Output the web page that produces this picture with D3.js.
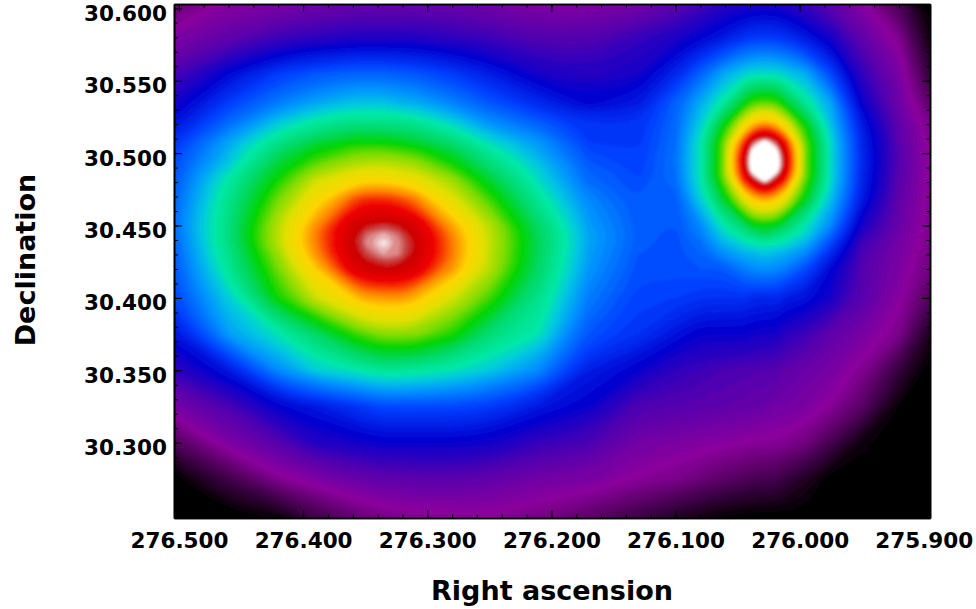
<!DOCTYPE html>
<html>
<head>
<meta charset="utf-8">
<script src="https://cdn.jsdelivr.net/npm/d3@7"></script>
<style>
html, body { margin: 0; padding: 0; background: #fff; }
svg text { font-family: "DejaVu Sans"; font-weight: bold; fill: #000; }
</style>
</head>
<body>
<svg width="976" height="609"></svg>
<script>
// Sampled map: right ascension and declination of the rows/columns (degrees)
var raValues = [276.504, 276.46, 276.42, 276.39, 276.36, 276.349, 276.335, 276.323, 276.31, 276.28, 276.25, 276.21, 276.17, 276.13,
    276.10, 276.08, 276.062, 276.045, 276.038, 276.028, 276.019, 276.012, 275.995, 275.975, 275.95, 275.92, 275.895];
var decValues = [30.603, 30.58, 30.555, 30.535, 30.52, 30.508, 30.502, 30.495, 30.488, 30.482, 30.468, 30.45, 30.444, 30.438,
    30.43, 30.42, 30.40, 30.375, 30.35, 30.325, 30.30, 30.275, 30.248];

// Levels, one row per declination
var levelRows = [
    [10,14,15,16,17,17,17,17,17,17,16,14.5,14.5,15.5,18,20,22.5,23,23.5,23.5,23.5,23,21,18,14,7.5,0],
    [15,18,21,22,23,23,23,23,23,22,21,19,19,21.5,23.5,25.5,27.5,30,30.5,31,30.5,30,27.5,24,18,12.5,2],
    [20,26,31,33,34,34,34,33.5,33,31,28,24,22.5,24,29,34,39,42,43,43,43,42,39.5,32,22,15.5,5],
    [24,31,36,39,41,41,41,40,39.5,36.5,33,29,25.5,27.5,34,39.5,45,54,58,59,58,54,46,39,25,16.5,9],
    [27,35,42,46,48,48,48,47.5,47,43,38,34,30,30,34.5,42,54,68,74.5,78,74.5,69,55,41,28,18,12],
    [30,39,47,52,55,55,55,54,53,49,43,38,31,30.5,35,44,59,82,94,101,94,85,59,43,29,18.5,12.5],
    [31,40,49.5,55,58.5,59,59,58,57,52,45.5,39,32,31,35,44,59.5,87.5,101,112,101,90,60,43,29,19,13],
    [32,41,52,58,62,62.5,63,62,61,55,48,40.5,33,31,35.5,44,59.5,90,105,122,105,92.5,59.5,43,29.5,19,13],
    [32.5,43,54,61.5,66,67,67,66,65,58.5,50.5,42,34,31.5,35,44,60,88,103,113,103,90.5,60,43,29,19,13],
    [33,45,56,65,70,71,71,70,68,62,53,43,34.5,32,35,44,59,84,92,103,92,85,59,43,29,18.5,13],
    [34,47,60,70.5,81,83.5,83.5,82,79,67.5,58,46,37,33,33.5,42,53,67,73,76,73,68,54,41,28,18,12.5],
    [35,48,64,77.5,91,93,94.5,93,90.5,76,64,50,38.5,33.5,33,37,44,50,54,55,54,51,44,37,24,17,12.5],
    [34.5,48,64,78.5,92,95.5,97.5,95.5,92,78,64.5,50.5,39,33.5,32.5,36,42,46.5,48.5,51,48.5,47,42.5,34.5,22.5,16.5,12],
    [34,48,64,78.5,92.3,96.5,100,96.5,92.8,79,65,51,39,33.5,32.5,35,40,43,44.5,45,44.5,43.5,40,32,21,16,12],
    [33.5,47,62,77,91.5,94.5,97,96,92.5,79,64.5,50.5,38.5,33,32.5,34,37,39.5,40,41,40,39.5,36.5,29,20,15.5,11.5],
    [33,46,60,73,88,91,92.5,92,89.5,77,64,50,38,32.5,32.5,33,33,36,37,37.5,37,36,32,26,19,15,11],
    [32,42,56,65,73,76,76.5,77,75,66,58,47,36,31.5,31,30,30,30,29,29,29,28,27,24,19,14,8],
    [27,38.5,44,50,57,59,61,61,61,56.5,49,44,33,30,27,25,25,25,24.5,24,24,22.5,21,18,15.5,12,3],
    [22,27.5,37,42,44,45,46,46,45.5,44,41.5,37,28,25,22,21,20,19.5,19.5,19,19,18,17,15.5,12.5,5.5,0],
    [15.5,20,25.5,27.5,30,31,32,32,32,32,31,27.5,25,19.5,19,18.5,18,17.5,17,17,16,16,15,13,9,1,0],
    [8,15,19,23,24,24.5,25,25,25,25,24.5,21.5,20,16,15,14.5,14,13.5,13,13,12.8,12.5,11,7,1.5,0,0],
    [0,6.5,12.5,15,17,17.5,18,18,18.5,18.5,18,16,15.5,13,12,10.5,9,8,7.5,7,7,5.5,3.5,0,0,0,0],
    [0,0,1,6,9.5,10.5,11.5,12,12.5,12.5,13,11.5,9,6,3.5,2,0.8,0.2,0,0,0,0,0,0,0,0,0]
];

// Ticks
var raMajor = [276.5, 276.4, 276.3, 276.2, 276.1, 276.0, 275.9];
var raMinor = d3.range(276.5, 275.89, -0.02).map(function(d) { return +d.toFixed(2); });
var decMajor = [30.6, 30.55, 30.5, 30.45, 30.4, 30.35, 30.3];
var decMinor = d3.range(30.25, 30.601, 0.01).map(function(d) { return +d.toFixed(2); });

// Colour table
var paletteLevels = [0, 13, 19, 25, 31, 37, 41, 44, 50, 55, 60, 66, 72, 78, 85, 92, 94, 97, 100];
var paletteColors = ['#000000', '#8a009c', '#5000b0', '#0000d0', '#0040ff', '#0090ff', '#00c8e0', '#00e8a8',
    '#00d860', '#00d400', '#80dc00', '#e0e000', '#ffd400', '#ff8000', '#f00000', '#cc0000', '#c84040', '#e8b0b0', '#ffffff'];

var svg = d3.select('svg');
var plot = {l: 174, r: 930, t: 4, b: 518};

var xScale = d3.scaleLinear().domain([276.504, 275.895]).range([plot.l, plot.r]);
var yScale = d3.scaleLinear().domain([30.603, 30.248]).range([plot.t, plot.b]);
var colorScale = d3.scaleLinear().domain(paletteLevels).range(paletteColors).clamp(true);

var nCols = raValues.length;
var nRows = decValues.length;

// d3.contours puts sample i at i + 0.5, so map that back to the picture.
// The outer half cell runs past the frame so the blur has no edge to fade at.
function gridScale(values, scale, pad) {
    var n = values.length;
    var domain = [0], range = [scale(values[0]) - pad];
    values.forEach(function(v, i) {
        domain.push(i + 0.5);
        range.push(scale(v));
    });
    domain.push(n);
    range.push(scale(values[n - 1]) + pad);
    return d3.scaleLinear().domain(domain).range(range);
}
var colPx = gridScale(raValues, xScale, 12);
var rowPx = gridScale(decValues, yScale, 12);

var flat = d3.merge(levelRows);
var thresholds = d3.range(0, 101, 1);
var contours = d3.contours().size([nCols, nRows]).thresholds(thresholds)(flat);

// Rings go through a closed curve so the coarse cells do not show as facets
var ringLine = d3.line()
    .x(function(p) { return colPx(p[0]); })
    .y(function(p) { return rowPx(p[1]); })
    .curve(d3.curveBasisClosed);

function contourPath(d) {
    var out = '';
    d.coordinates.forEach(function(polygon) {
        polygon.forEach(function(ring) {
            out += ringLine(ring.slice(0, -1));
        });
    });
    return out;
}

var defs = svg.append('defs');
defs.append('clipPath').attr('id', 'plotClip')
    .append('rect')
    .attr('x', plot.l).attr('y', plot.t)
    .attr('width', plot.r - plot.l).attr('height', plot.b - plot.t);
defs.append('filter').attr('id', 'soften')
    .attr('filterUnits', 'userSpaceOnUse')
    .attr('x', plot.l - 20).attr('y', plot.t - 20)
    .attr('width', plot.r - plot.l + 40).attr('height', plot.b - plot.t + 40)
    .append('feGaussianBlur').attr('stdDeviation', 1.5);

var clipG = svg.append('g').attr('clip-path', 'url(#plotClip)');
clipG.append('rect')
    .attr('x', plot.l).attr('y', plot.t)
    .attr('width', plot.r - plot.l).attr('height', plot.b - plot.t)
    .attr('fill', '#000');

clipG.append('g').attr('filter', 'url(#soften)')
    .selectAll('path')
    .data(contours)
    .enter().append('path')
    .attr('d', contourPath)
    .attr('fill', function(d) { return colorScale(d.value); });

// Frame and ticks: long and short inward ticks on all four sides
function drawAxis(axis, transform, labelled) {
    var g = svg.append('g').attr('transform', transform).call(axis);
    g.select('.domain').attr('stroke', '#000').attr('stroke-width', 1.6);
    g.selectAll('.tick line').attr('stroke', '#000').attr('stroke-width', 1);
    if (!labelled) g.selectAll('.tick text').remove();
    return g;
}

var bottomT = 'translate(0,' + plot.b + ')';
var topT = 'translate(0,' + plot.t + ')';
var leftT = 'translate(' + plot.l + ',0)';
var rightT = 'translate(' + plot.r + ',0)';

drawAxis(d3.axisBottom(xScale).tickValues(raMinor).tickSize(-4).tickSizeOuter(0), bottomT, false);
drawAxis(d3.axisTop(xScale).tickValues(raMinor).tickSize(-4).tickSizeOuter(0), topT, false);
drawAxis(d3.axisLeft(yScale).tickValues(decMinor).tickSize(-4).tickSizeOuter(0), leftT, false);
drawAxis(d3.axisRight(yScale).tickValues(decMinor).tickSize(-4).tickSizeOuter(0), rightT, false);

drawAxis(d3.axisTop(xScale).tickValues(raMajor).tickSize(-8).tickSizeOuter(0), topT, false);
drawAxis(d3.axisRight(yScale).tickValues(decMajor).tickSize(-8).tickSizeOuter(0), rightT, false);

var xAxisG = drawAxis(d3.axisBottom(xScale).tickValues(raMajor).tickSize(-8).tickSizeOuter(0)
    .tickPadding(15).tickFormat(d3.format('.3f')), bottomT, true);
xAxisG.selectAll('text').style('font-size', '21.5px').attr('fill', '#000');

var yAxisG = drawAxis(d3.axisLeft(yScale).tickValues(decMajor).tickSize(-8).tickSizeOuter(0)
    .tickPadding(7).tickFormat(d3.format('.3f')), leftT, true);
yAxisG.selectAll('text').style('font-size', '21.5px').attr('fill', '#000').attr('y', 5);

// Axis titles
svg.append('text')
    .attr('x', 552).attr('y', 600)
    .attr('text-anchor', 'middle')
    .style('font-size', '27px')
    .text('Right ascension');

svg.append('text')
    .attr('transform', 'translate(35,260) rotate(-90)')
    .attr('text-anchor', 'middle')
    .style('font-size', '27px')
    .text('Declination');
</script>
</body>
</html>
